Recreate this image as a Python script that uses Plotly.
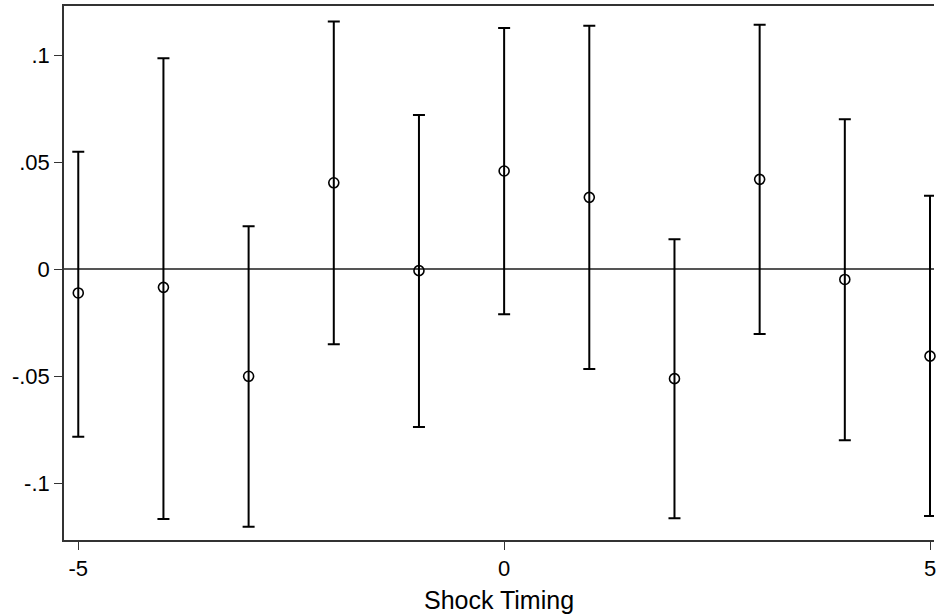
import plotly.graph_objects as go

timing = [-5, -4, -3, -2, -1, 0, 1, 2, 3, 4, 5]
estimate = [-0.011, -0.0084, -0.0499, 0.0404, -0.0006, 0.0459, 0.0336, -0.051, 0.042, -0.0047, -0.0405]
upper = [0.0549, 0.0985, 0.0201, 0.1157, 0.072, 0.1126, 0.1137, 0.014, 0.1141, 0.070, 0.0344]
lower = [-0.0781, -0.1165, -0.1201, -0.035, -0.0736, -0.0209, -0.0465, -0.1162, -0.0302, -0.0797, -0.1151]

ytick_vals = [-0.1, -0.05, 0, 0.05, 0.1]
ytick_text = ["-.1", "-.05", "0", ".05", ".1"]
xtick_vals = [-5, 0, 5]
xtick_text = ["-5", "0", "5"]

err_plus = [u - e for u, e in zip(upper, estimate)]
err_minus = [e - l for e, l in zip(estimate, lower)]

fig = go.Figure()
fig.add_trace(go.Scatter(
    x=timing, y=estimate, mode="markers",
    marker=dict(symbol="circle-open", size=10, color="black", line=dict(width=1.6, color="black")),
    error_y=dict(type="data", symmetric=False, array=err_plus, arrayminus=err_minus,
                 color="black", thickness=2, width=6),
    cliponaxis=False, showlegend=False,
))

font = "Liberation Sans, Arial, sans-serif"
fig.update_layout(
    width=936, height=614,
    margin=dict(l=64, r=0, t=6, b=74),
    paper_bgcolor="white", plot_bgcolor="white",
    font=dict(family=font, size=22, color="black"),
    showlegend=False,
)
fig.update_xaxes(
    range=[-5.1675, 5.047],
    tickvals=xtick_vals, ticktext=xtick_text,
    ticks="outside", ticklen=8, tickwidth=1.2, tickcolor="#333",
    showline=True, linecolor="#333", linewidth=1.6, mirror=True,
    showgrid=False, zeroline=False,
    ticklabeloverflow="allow",
    title=dict(text="Shock Timing", font=dict(size=25), standoff=12),
    tickfont=dict(size=22),
)
fig.update_yaxes(
    range=[-0.1263, 0.1229],
    tickvals=ytick_vals, ticktext=ytick_text,
    ticks="outside", ticklen=8, tickwidth=1.2, tickcolor="#333",
    showline=True, linecolor="#333", linewidth=1.6, mirror=False,
    showgrid=False, zeroline=True, zerolinecolor="#555", zerolinewidth=1.5,
    tickfont=dict(size=22),
)

fig.write_html(
    "out.html",
    config={"displayModeBar": False},
    post_script="document.body.style.margin='0';document.documentElement.style.overflow='hidden';document.body.style.overflow='hidden';",
)
